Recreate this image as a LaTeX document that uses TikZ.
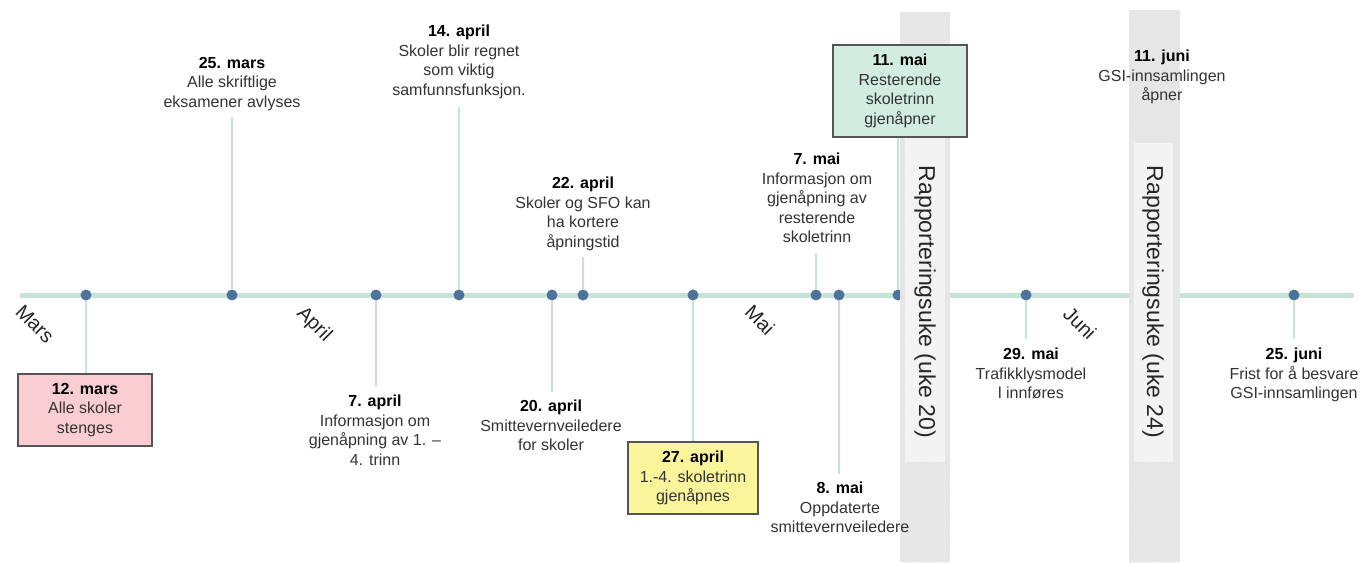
\documentclass[tikz,border=0pt]{standalone}
\usepackage{fontspec}
\setmainfont{Liberation Sans}
\usetikzlibrary{patterns}
\definecolor{tl}{HTML}{C6E3D7}
\definecolor{dotc}{HTML}{4F729B}
\definecolor{txt}{HTML}{333333}
\definecolor{pinkf}{HTML}{F9CDD1}
\definecolor{yelf}{HTML}{FAF59B}
\definecolor{grnf}{HTML}{D3ECE1}
\definecolor{bord}{HTML}{555555}
\definecolor{bandc}{HTML}{E8E8E8}
\definecolor{innerc}{HTML}{F7F7F7}
\newcommand\hd[1]{{\color{black}\bfseries #1}}
\pgfdeclarelayer{bgl}
\pgfdeclarelayer{dotl}
\pgfdeclarelayer{bandl}
\pgfsetlayers{bgl,dotl,bandl,main}
\begin{document}
\begin{tikzpicture}[x=1pt,y=-1pt,
  ev/.style={align=center, font=\fontsize{16}{19.5}\selectfont, text=txt, inner sep=0pt, anchor=north},
  evbox/.style={align=center, font=\fontsize{16}{19.5}\selectfont, text=txt, draw=bord, line width=1.3pt, inner sep=0pt},
  stem/.style={draw=tl, line width=2.5pt},
  dt/.style={circle, fill=dotc, inner sep=0pt, minimum size=11pt},
  month/.style={rotate=-45, font=\fontsize{20}{20}\selectfont, text=black!85, inner sep=0pt},
  band/.style={fill=bandc, fill opacity=0.95},
  hatch/.style={pattern=north east lines, pattern color=gray!22},
  inner/.style={fill=innerc, fill opacity=0.8},
  rap/.style={rotate=-90, font=\fontsize{23}{23}\selectfont, text=black!85}]
\useasboundingbox (0,0) rectangle (1362,562);

% event texts
\node[ev] (t25m) at (232,57) {\hd{25. mars}\\Alle skriftlige\\eksamener avlyses};
\node[ev] (t14a) at (459,25) {\hd{14. april}\\Skoler blir regnet\\som viktig\\samfunnsfunksjon.};
\node[ev] (t22a) at (583,177) {\hd{22. april}\\Skoler og SFO kan\\ha kortere\\åpningstid};
\node[ev] (t7m) at (817,153) {\hd{7. mai}\\Informasjon om\\gjenåpning av\\resterende\\skoletrinn};
\node[ev] (t11j) at (1162,50) {\hd{11. juni}\\GSI-innsamlingen\\åpner};
\node[ev] (t7a) at (375,395) {\hd{7. april}\\Informasjon om\\gjenåpning av 1. –\\4. trinn};
\node[ev] (t20a) at (551,400) {\hd{20. april}\\Smittevernveiledere\\for skoler};
\node[ev] (t8m) at (840,482) {\hd{8. mai}\\Oppdaterte\\smittevernveiledere};
\node[ev] (t29m) at (1031,348) {\hd{29. mai}\\Trafikklysmodel\\l innføres};
\node[ev] (t25j) at (1294,348) {\hd{25. juni}\\Frist for å besvare\\GSI-innsamlingen};

% boxes
\node[evbox, fill=pinkf, minimum width=134pt, minimum height=72pt] (b12m) at (85,410) {\hd{12. mars}\\Alle skoler\\stenges};
\node[evbox, fill=yelf, minimum width=130pt, minimum height=72pt] (b27a) at (693,478) {\hd{27. april}\\1.-4. skoletrinn\\gjenåpnes};
\node[evbox, fill=grnf, minimum width=134pt, minimum height=92pt] (b11m) at (900,91) {\hd{11. mai}\\Resterende\\skoletrinn\\gjenåpner};

% month labels
\node[month] (mMars) at (35,324) {Mars};
\node[month] (mApr) at (314,325) {April};
\node[month] (mMai) at (760,320) {Mai};
\node[month] (mJun) at (1080,323) {Juni};

% dots
\begin{pgfonlayer}{dotl}
\node[dt] (d12m) at (86,295) {};
\node[dt] (d25m) at (232,295) {};
\node[dt] (d7a) at (376,295) {};
\node[dt] (d14a) at (459,295) {};
\node[dt] (d20a) at (552,295) {};
\node[dt] (d22a) at (583,295) {};
\node[dt] (d27a) at (693,295) {};
\node[dt] (d7m) at (816,295) {};
\node[dt] (d8m) at (839,295) {};
\node[dt] (d11m) at (898,295) {};
\node[dt] (d29m) at (1026,295) {};
\node[dt] (d11j) at (1163,295) {};
\node[dt] (d25j) at (1294,295) {};
\end{pgfonlayer}

% timeline and stems
\coordinate (L) at (20,295);
\coordinate (R) at (1354,295);
\begin{pgfonlayer}{bgl}
\draw[draw=tl, line width=5pt] (L) -- (R);
\draw[stem] (d12m) -- (d12m |- b12m.north);
\draw[stem, shorten >=6pt] (d25m) -- (d25m |- t25m.south);
\draw[stem, shorten >=8pt] (d7a) -- (d7a |- t7a.north);
\draw[stem, shorten >=8pt] (d14a) -- (d14a |- t14a.south);
\draw[stem, shorten >=8pt] (d20a) -- (d20a |- t20a.north);
\draw[stem, shorten >=6pt] (d22a) -- (d22a |- t22a.south);
\draw[stem] (d27a) -- (d27a |- b27a.north);
\draw[stem, shorten >=10pt] (d7m) -- (d7m |- t7m.south);
\draw[stem, shorten >=8pt] (d8m) -- (d8m |- t8m.north);
\draw[stem] (d11m) -- (d11m |- b11m.south);
\draw[stem, shorten >=9pt] (d29m) -- (d29m |- t29m.north);
\draw[stem, shorten >=9pt] (d25j) -- (d25j |- t25j.north);
\end{pgfonlayer}

% reporting-week bands
\begin{pgfonlayer}{bandl}
\path[band] (900,12) rectangle (950,562);
\path[hatch] (900,12) rectangle (950,562);
\path[inner] (905,138) rectangle (945,462);
\path[band] (1129,10) rectangle (1180,562);
\path[hatch] (1129,10) rectangle (1180,562);
\path[inner] (1134,143) rectangle (1173,462);
\node[rap] (r20) at (925,302) {Rapporteringsuke (uke 20)};
\node[rap] (r24) at (1153,302) {Rapporteringsuke (uke 24)};
\end{pgfonlayer}
\end{tikzpicture}
\end{document}
